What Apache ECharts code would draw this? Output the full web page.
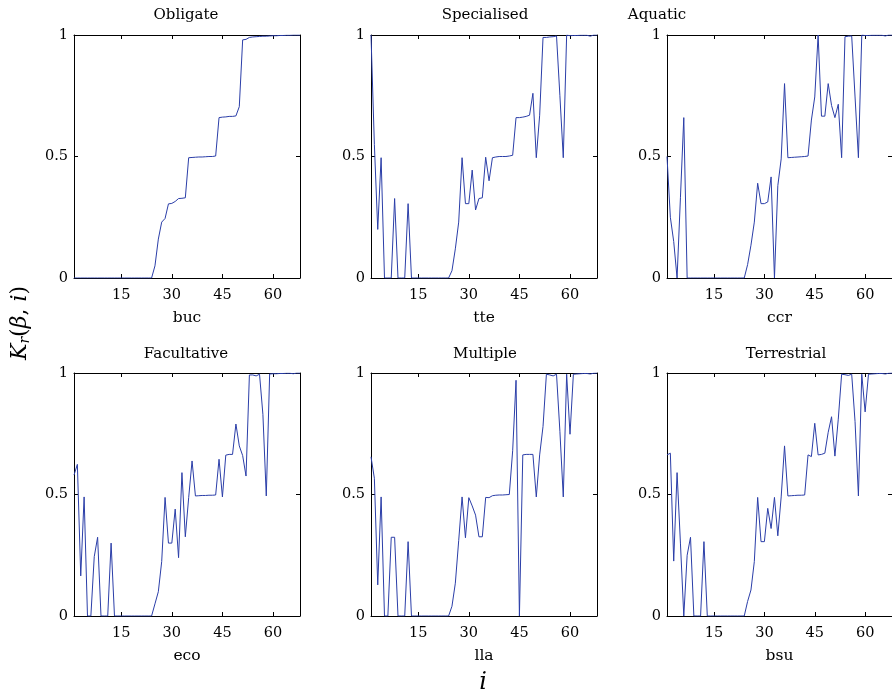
<!DOCTYPE html>
<html><head><meta charset="utf-8">
<script src="https://cdn.jsdelivr.net/npm/echarts@6/dist/echarts.min.js"></script>
<style>html,body{margin:0;padding:0;background:#fff}#c{width:892px;height:692px}</style>
</head><body><div id="c"></div>
<script>
const titles = ['Obligate','Specialised','Aquatic','Facultative','Multiple','Terrestrial'];
const xNames = ['buc','tte','ccr','eco','lla','bsu'];
const xTicks = [15,30,45,60];
const yTicks = [0,0.5,1];

const buc = [0,0,0,0,0,0,0,0,0,0,0,0,0,0,0,0,0,0,0,0,0,0,0,0,
 0.05,0.16,0.23,0.245,0.305,0.307,0.315,0.327,0.328,0.33,
 0.495,0.496,0.497,0.498,0.498,0.499,0.5,0.5,0.502,
 0.66,0.662,0.663,0.665,0.665,0.667,
 0.705,
 0.98,0.982,0.99,0.992,0.993,0.994,0.995,0.995,0.996,0.997,0.997,0.998,0.998,0.999,0.999,1,1,1];
const tte = [1.0,0.55,0.2,0.495,0,0,0,0.327,0,0,0,0.306,
 0,0,0,0,0,0,0,0,0,0,0,0,
 0.03,0.12,0.23,0.495,0.306,0.306,0.444,0.28,0.327,0.33,0.497,0.40,0.495,0.498,0.5,0.5,0.5,0.502,0.505,
 0.66,0.66,0.662,0.665,0.67,0.76,0.495,0.67,0.99,0.99,0.992,0.993,0.996,0.75,0.495,1.0,
 0.997,0.998,0.998,0.999,0.999,0.999,0.995,1,1];
const ccr = [0.5,0.25,0.15,0,0.33,0.66,0,
 0,0,0,0,0,0,0,0,0,0,0,0,0,0,0,0,0,
 0.055,0.135,0.23,0.39,0.306,0.306,0.313,0.416,0,0.38,0.49,0.8,0.495,0.496,0.497,0.498,0.499,0.5,0.502,
 0.65,0.745,1.0,0.666,0.666,0.8,0.71,0.66,0.715,0.495,0.993,0.995,0.996,0.745,0.495,1.0,
 0.998,0.998,0.999,0.999,0.999,0.999,0.996,1,1];
const eco = [0.58,0.624,0.165,0.49,0,0,0.244,0.324,0,0,0,0.30,
 0,0,0,0,0,0,0,0,0,0,0,0,
 0.05,0.1,0.224,0.488,0.30,0.30,0.44,0.24,0.59,0.326,0.487,0.638,0.494,0.495,0.496,0.496,0.497,0.497,0.498,
 0.645,0.49,0.662,0.665,0.665,0.79,0.70,0.66,0.576,0.992,0.992,0.988,0.995,0.83,0.494,0.996,
 0.997,0.997,0.998,0.998,0.999,0.999,0.997,1,1];
const lla = [0.655,0.567,0.128,0.49,0,0,0.324,0.324,0,0,0,0.306,
 0,0,0,0,0,0,0,0,0,0,0,0,
 0.04,0.135,0.31,0.49,0.322,0.487,0.453,0.415,0.326,0.326,0.488,0.487,0.495,0.497,0.498,0.498,0.499,0.5,
 0.68,0.97,0,0.663,0.665,0.665,0.665,0.49,0.663,0.78,0.995,0.992,0.988,0.995,0.76,0.49,0.995,0.748,0.995,
 0.996,0.997,0.998,0.998,0.996,0.999,1];
const bsu = [0.663,0.67,0.226,0.59,0.3,0,0.25,0.324,0,0,0,0.306,
 0,0,0,0,0,0,0,0,0,0,0,0,
 0.06,0.107,0.224,0.488,0.306,0.306,0.443,0.36,0.488,0.33,0.49,0.70,0.494,0.495,0.496,0.497,0.497,0.498,
 0.663,0.656,0.793,0.663,0.665,0.67,0.756,0.82,0.658,0.81,0.995,0.993,0.99,0.995,0.8,0.494,0.995,0.84,0.995,
 0.996,0.997,0.998,0.998,0.996,0.999,1];
const seriesData = [buc,tte,ccr,eco,lla,bsu];

const FONT = 'DejaVu Serif';
const lefts = [74,371,667];
const tops = [35,373];
const W = 226, H = 243;
const titlePos = [[186,15],[485,15],[657,15],[186,354],[485,354],[786,354]];

const grid=[], xAxis=[], yAxis=[], series=[], gfx=[];
for (let k=0;k<6;k++){
  const r = Math.floor(k/3), c = k%3;
  grid.push({left:lefts[c], top:tops[r], width:W, height:H, show:false, containLabel:false});
  const baseX = {gridIndex:k, type:'value', min:1, max:68,
    axisLine:{show:true, onZero:false, lineStyle:{color:'#000', width:1}},
    splitLine:{show:false}};
  xAxis.push(Object.assign({}, baseX, {position:'bottom', name:xNames[k], nameLocation:'middle', nameGap:32,
    nameTextStyle:{fontFamily:FONT, fontSize:15.5, color:'#000'},
    axisTick:{show:true, inside:true, length:4, customValues:xTicks, lineStyle:{color:'#000'}},
    axisLabel:{show:true, customValues:xTicks, margin:10, fontFamily:FONT, fontSize:14.5, color:'#000'}}));
  xAxis.push(Object.assign({}, baseX, {position:'top',
    axisTick:{show:true, inside:true, length:4, customValues:xTicks, lineStyle:{color:'#000'}},
    axisLabel:{show:false}}));
  const baseY = {gridIndex:k, type:'value', min:0, max:1, interval:0.5,
    axisLine:{show:true, onZero:false, lineStyle:{color:'#000', width:1}},
    splitLine:{show:false}};
  yAxis.push(Object.assign({}, baseY, {position:'left',
    axisTick:{show:true, inside:true, length:4, lineStyle:{color:'#000'}},
    axisLabel:{show:true, margin:6, fontFamily:FONT, fontSize:14.5, color:'#000',
      formatter:v=> (v===0?'0':v===1?'1':'0.5')}}));
  yAxis.push(Object.assign({}, baseY, {position:'right',
    axisTick:{show:true, inside:true, length:4, lineStyle:{color:'#000'}},
    axisLabel:{show:false}}));
  series.push({type:'line', xAxisIndex:2*k, yAxisIndex:2*k,
    data: seriesData[k].map((v,i)=>[i+1, v]),
    showSymbol:false, symbol:'none', animation:false, clip:true,
    lineStyle:{color:'#2b3ea8', width:1}});
  gfx.push({type:'text', x:titlePos[k][0], y:titlePos[k][1],
    style:{text:titles[k], font:'15px "DejaVu Serif"', fill:'#000', align:'center', verticalAlign:'middle'}});
}
gfx.push({type:'text', x:20, y:323, rotation:Math.PI/2,
  style:{text:'{it|K}{sub|r}{n|(}{it|β}{n|, }{it|i}{n|)}', align:'center', verticalAlign:'middle',
    rich:{it:{fontFamily:FONT, fontStyle:'italic', fontSize:22, fill:'#000'},
          sub:{fontFamily:FONT, fontStyle:'italic', fontSize:14, fill:'#000', padding:[10,0,0,0]},
          n:{fontFamily:FONT, fontSize:22, fill:'#000'}}}});
gfx.push({type:'text', x:483, y:683, style:{text:'i', font:'italic 24px "DejaVu Serif"', fill:'#000', align:'center', verticalAlign:'middle'}});

const chart = echarts.init(document.getElementById('c'), null, {renderer:'canvas'});
chart.setOption({animation:false, backgroundColor:'#fff', grid, xAxis, yAxis, series, graphic:gfx});
</script></body></html>
